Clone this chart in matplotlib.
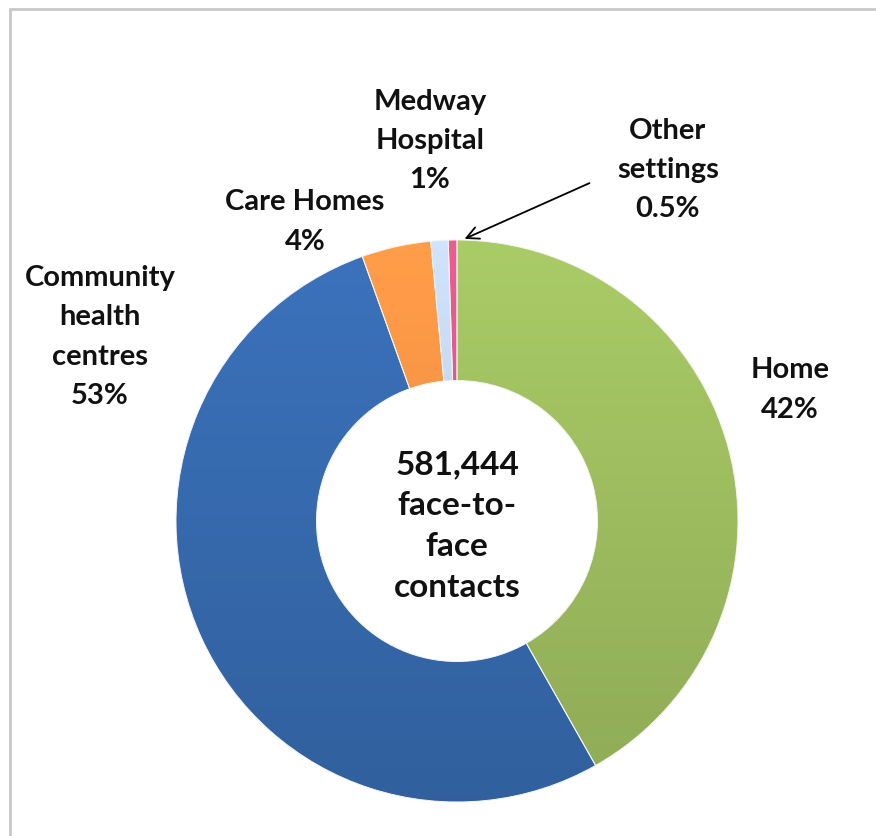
import matplotlib
matplotlib.use("Agg")
import matplotlib.pyplot as plt
import numpy as np
from matplotlib.patches import Rectangle
from matplotlib.colors import to_rgb

plt.rcParams['font.family'] = ['Lato', 'DejaVu Sans']

categories = ["Home", "Community\nhealth\ncentres", "Care Homes", "Medway\nHospital", "Other\nsettings"]
values = [42, 53, 4, 1, 0.5]
pct_labels = ["42%", "53%", "4%", "1%", "0.5%"]
colors = ["#a2c262", "#386db3", "#f79646", "#c6d9f1", "#e0588c"]
total_text = "581,444\nface-to-\nface\ncontacts"

W, H = 876, 836
fig = plt.figure(figsize=(W / 100, H / 100), dpi=100)
ax = fig.add_axes([0, 0, 1, 1])
ax.axis("off")

cx, cy, R = 457, H - 521, 281
wedges, _ = ax.pie(values, colors=colors, startangle=90, counterclock=False,
                   center=(cx, cy), radius=R,
                   wedgeprops=dict(width=R * 0.5, edgecolor="#f4f4f4", linewidth=0.7))
ax.set_xlim(0, W)
ax.set_ylim(0, H)
ax.set_aspect("equal")

# vertical shading inside each slice (lighter top, darker bottom)
grad = np.linspace(1.05, 0.88, 256)[:, None]
for w, c in zip(wedges, colors):
    rgb = np.array(to_rgb(c))
    img = np.clip(grad[:, :, None] * rgb[None, None, :], 0, 1)
    im = ax.imshow(img, extent=(cx - R, cx + R, cy - R, cy + R), origin="upper",
                   aspect="auto", zorder=w.get_zorder() + 0.1, interpolation="bilinear")
    im.set_clip_path(w)
for w in wedges:
    w.set_zorder(w.get_zorder() + 0.2)
    w.set_facecolor("none")
ax.set_xlim(0, W)
ax.set_ylim(0, H)

# border
ax.add_patch(Rectangle((10, -10), W, H - 9 + 10, fill=False, edgecolor="#c8c8c8", linewidth=2))

fs = 21
tkw = dict(fontsize=fs, fontweight="bold", ha="center", va="center", linespacing=1.62, color="#111111")
label_pos = [(790, H - 390), (100, H - 337), (305, H - 222), (430, H - 141), (668, H - 170)]
for cat, pct, (x, y) in zip(categories, pct_labels, label_pos):
    ax.text(x, y, cat + "\n" + pct, zorder=5, **tkw)

ckw = dict(tkw)
ckw.update(fontsize=24, linespacing=1.49)
ax.text(cx, H - 526, total_text, zorder=5, **ckw)

ax.annotate("", xy=(462, H - 240), xytext=(592, H - 182),
            arrowprops=dict(arrowstyle="->", color="black", lw=1.3, mutation_scale=22), zorder=6)

fig.savefig("out.png", dpi=100)
